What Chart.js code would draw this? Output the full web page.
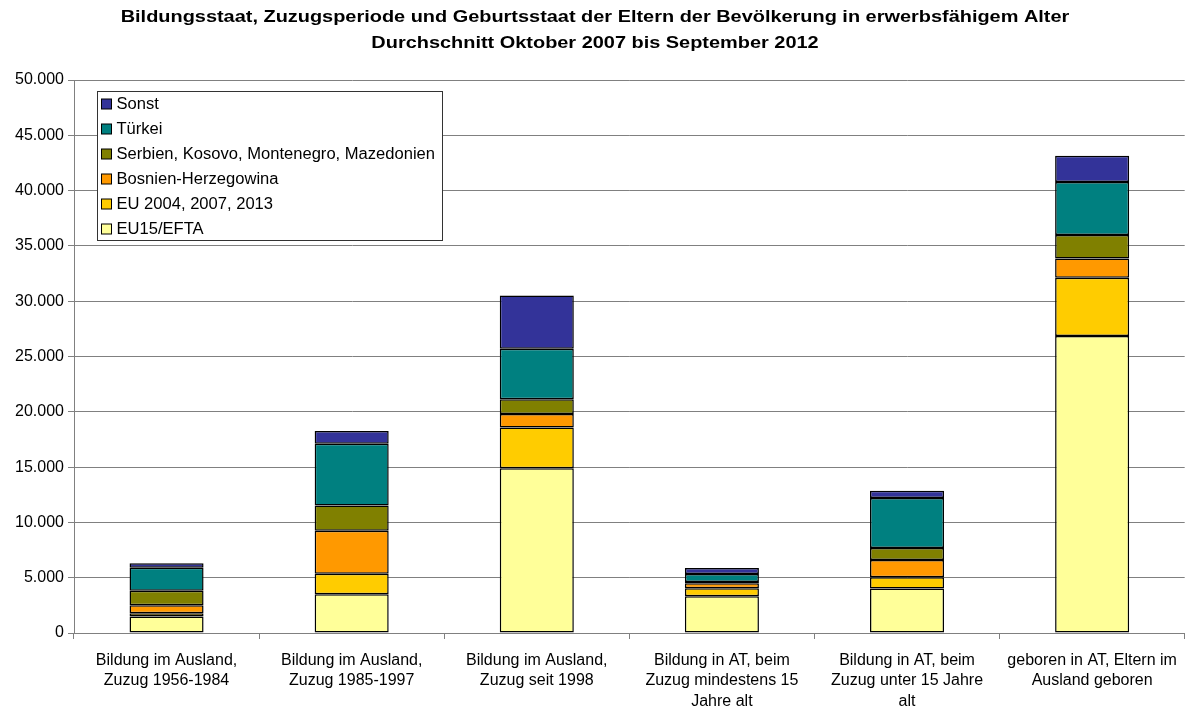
<!DOCTYPE html>
<html>
<head>
<meta charset="utf-8">
<script src="https://cdn.jsdelivr.net/npm/chart.js@4"></script>
<style>
  html, body { margin: 0; padding: 0; background: #fff; }
  #wrap { width: 1188px; height: 706px; position: relative; }
</style>
</head>
<body>
<div id="wrap"><canvas id="chart"></canvas></div>
<script>
// categories (x axis labels, split into lines)
const categories = [
  ['Bildung im Ausland,', 'Zuzug 1956-1984'],
  ['Bildung im Ausland,', 'Zuzug 1985-1997'],
  ['Bildung im Ausland,', 'Zuzug seit 1998'],
  ['Bildung in AT, beim', 'Zuzug mindestens 15', 'Jahre alt'],
  ['Bildung in AT, beim', 'Zuzug unter 15 Jahre', 'alt'],
  ['geboren in AT, Eltern im', 'Ausland geboren']
];

// series values
const eu15 = [1500, 3500, 14900, 3320, 4030, 26850];
const eu2004 = [280, 1850, 3670, 720, 1000, 5280];
const bosnien = [720, 3900, 1240, 450, 1570, 1720];
const serbien = [1330, 2270, 1330, 120, 1090, 2140];
const tuerkei = [2070, 5600, 4550, 720, 4510, 4790];
const sonst = [400, 1150, 4820, 550, 670, 2370];

const titleLines = [
  'Bildungsstaat, Zuzugsperiode und Geburtsstaat der Eltern der Bevölkerung in erwerbsfähigem Alter',
  'Durchschnitt Oktober 2007 bis September 2012'
];

const FONT = "'Liberation Sans', Arial, sans-serif";

function fmt(v) {
  return String(v).replace(/\B(?=(\d{3})+(?!\d))/g, '.');
}

function ds(label, data, color) {
  return {
    label: label,
    data: data,
    backgroundColor: color,
    borderColor: '#000',
    borderWidth: 1.5,
    borderSkipped: false,
    barPercentage: 0.4,
    categoryPercentage: 1.0
  };
}

// the original text is a bit wider than Arial, so stretch it horizontally
function stretchText(ctx, text, x, y, sx) {
  ctx.save();
  ctx.translate(x, y);
  ctx.scale(sx, 1);
  ctx.fillText(text, 0, 0);
  ctx.restore();
}

// two-line bold title above the plot
const stretchedTitle = {
  id: 'stretchedTitle',
  afterDraw(chart) {
    const ctx = chart.ctx;
    ctx.save();
    ctx.font = 'bold 16px ' + FONT;
    ctx.fillStyle = '#000';
    ctx.textAlign = 'center';
    ctx.textBaseline = 'middle';
    titleLines.forEach(function (line, i) {
      stretchText(ctx, line, chart.width / 2 + 1, 18 + i * 26, 1.245);
    });
    ctx.restore();
  }
};

// legend drawn inside the plot area, top-left, reverse order
const boxLegend = {
  id: 'boxLegend',
  afterDraw(chart) {
    const ctx = chart.ctx;
    const area = chart.chartArea;
    const x0 = area.left + 23.5;
    const y0 = area.top + 11.5;
    const w = 345, h = 149;
    ctx.save();
    ctx.fillStyle = '#fff';
    ctx.fillRect(x0, y0, w, h);
    ctx.strokeStyle = '#333';
    ctx.lineWidth = 1;
    ctx.strokeRect(x0, y0, w, h);
    ctx.font = '16px ' + FONT;
    ctx.textBaseline = 'middle';
    const sets = chart.data.datasets.slice().reverse();
    sets.forEach(function (d, i) {
      const cy = y0 + 12.5 + i * 25;
      ctx.fillStyle = d.backgroundColor;
      ctx.fillRect(x0 + 4, cy - 5, 10, 10);
      ctx.strokeStyle = '#000';
      ctx.strokeRect(x0 + 4, cy - 5, 10, 10);
      ctx.fillStyle = '#000';
      stretchText(ctx, d.label, x0 + 19, cy + 1, 1.035);
    });
    ctx.restore();
  }
};

new Chart(document.getElementById('chart').getContext('2d'), {
  type: 'bar',
  data: {
    labels: categories,
    datasets: [
      ds('EU15/EFTA', eu15, '#FFFF99'),
      ds('EU 2004, 2007, 2013', eu2004, '#FFCC00'),
      ds('Bosnien-Herzegowina', bosnien, '#FF9900'),
      ds('Serbien, Kosovo, Montenegro, Mazedonien', serbien, '#808000'),
      ds('Türkei', tuerkei, '#008080'),
      ds('Sonst', sonst, '#333399')
    ]
  },
  options: {
    responsive: true,
    maintainAspectRatio: false,
    animation: false,
    layout: { padding: { left: 0, right: 1, top: 80, bottom: 0 } },
    plugins: {
      legend: { display: false },
      tooltip: { enabled: false },
      title: { display: false }
    },
    scales: {
      x: {
        stacked: true,
        offset: true,
        grid: { display: true, drawOnChartArea: false, drawTicks: true, tickLength: 6, color: '#808080', offset: true },
        border: { display: true, color: '#808080' },
        ticks: {
          color: '#000',
          font: { family: FONT, size: 16, lineHeight: 1.28 },
          maxRotation: 0,
          autoSkip: false,
          padding: 11
        },
        afterFit(scale) { scale.height = 73; }
      },
      y: {
        stacked: true,
        min: 0,
        max: 50000,
        grid: { color: '#808080', tickLength: 6 },
        border: { display: true, color: '#808080' },
        ticks: {
          stepSize: 5000,
          color: '#000',
          font: { family: FONT, size: 16 },
          padding: 4,
          callback: function (v) { return fmt(v); }
        },
        afterFit(scale) { scale.width = 74; }
      }
    }
  },
  plugins: [stretchedTitle, boxLegend]
});
</script>
</body>
</html>
